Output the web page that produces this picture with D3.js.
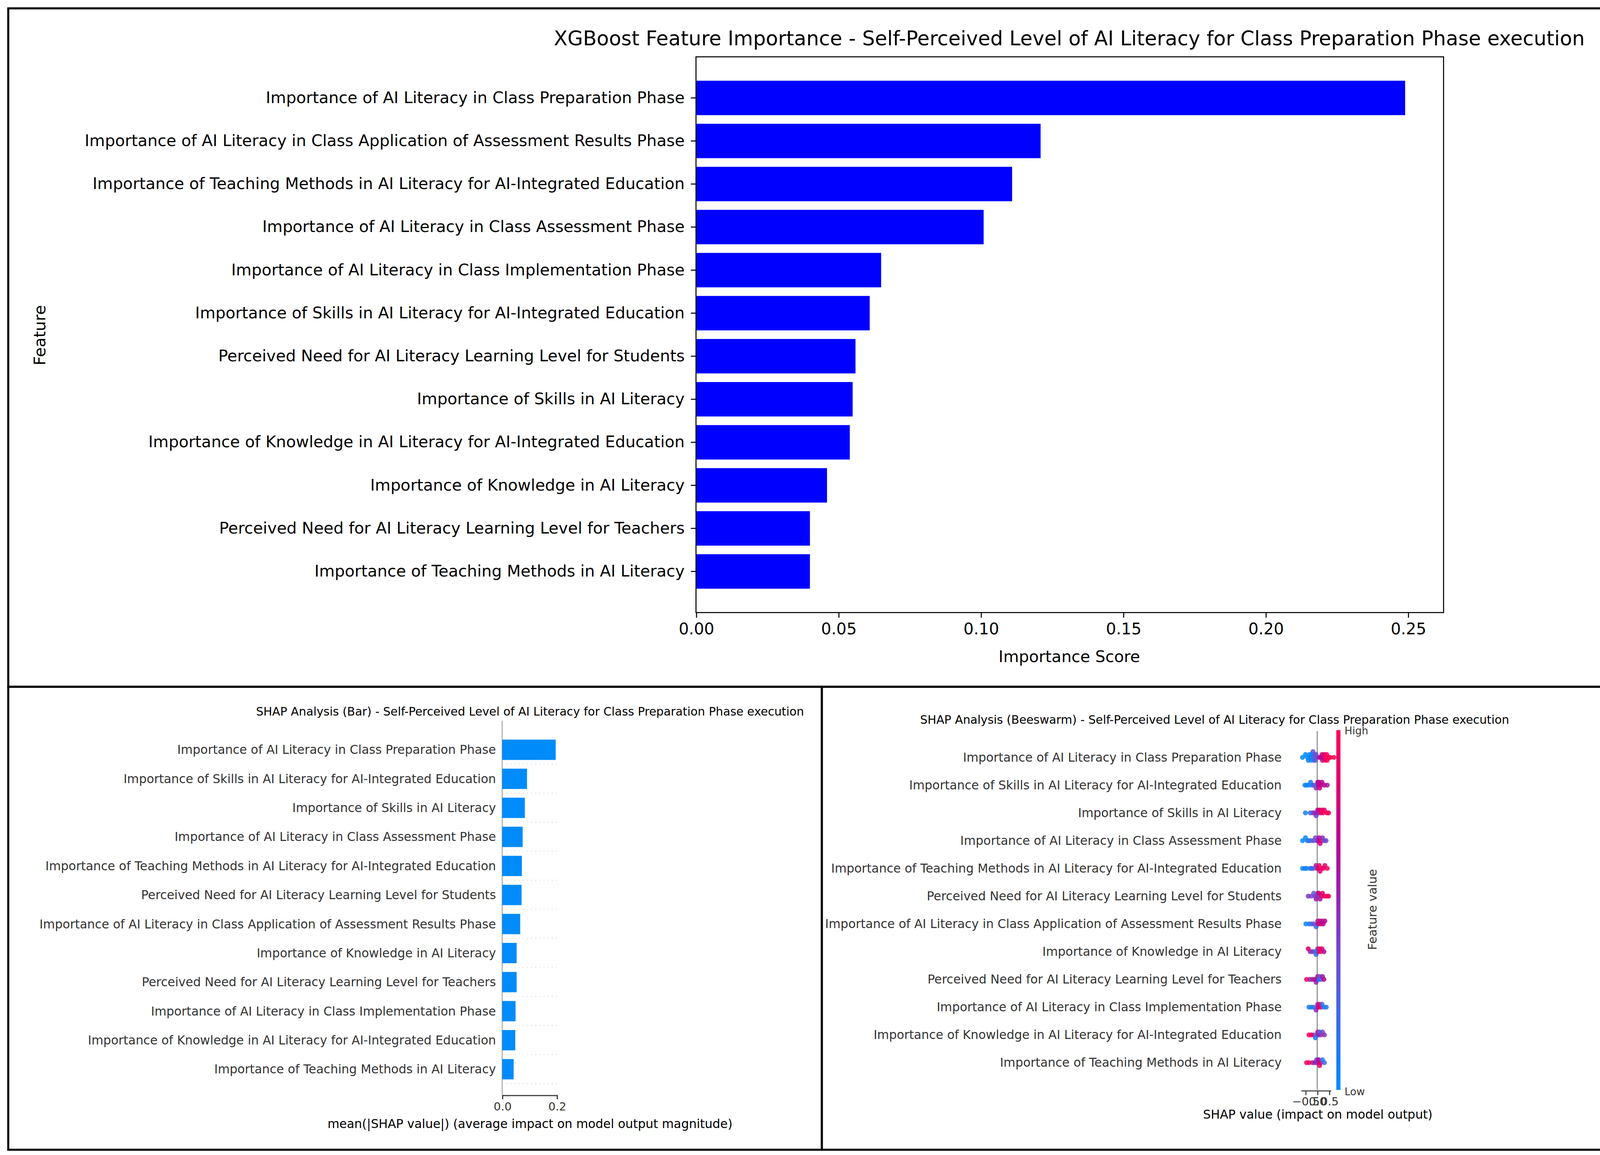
<!DOCTYPE html>
<html><head><meta charset="utf-8">
<script src="https://cdn.jsdelivr.net/npm/d3@7"></script>
<style>body{margin:0;background:#fff}svg{display:block}text{font-family:"DejaVu Sans",sans-serif}</style>
</head><body>
<script>
// Feature importance panels: XGBoost bar, SHAP bar, SHAP beeswarm

var xgbFeatures = [
  "Importance of AI Literacy in Class Preparation Phase",
  "Importance of AI Literacy in Class Application of Assessment Results Phase",
  "Importance of Teaching Methods in AI Literacy for AI-Integrated Education",
  "Importance of AI Literacy in Class Assessment Phase",
  "Importance of AI Literacy in Class Implementation Phase",
  "Importance of Skills in AI Literacy for AI-Integrated Education",
  "Perceived Need for AI Literacy Learning Level for Students",
  "Importance of Skills in AI Literacy",
  "Importance of Knowledge in AI Literacy for AI-Integrated Education",
  "Importance of Knowledge in AI Literacy",
  "Perceived Need for AI Literacy Learning Level for Teachers",
  "Importance of Teaching Methods in AI Literacy"
];
var xgbScores = [0.249, 0.121, 0.111, 0.101, 0.065, 0.061, 0.056, 0.055, 0.054, 0.046, 0.040, 0.040];
var xgbTicks = [0, 0.05, 0.10, 0.15, 0.20, 0.25];

var shapFeatures = [
  "Importance of AI Literacy in Class Preparation Phase",
  "Importance of Skills in AI Literacy for AI-Integrated Education",
  "Importance of Skills in AI Literacy",
  "Importance of AI Literacy in Class Assessment Phase",
  "Importance of Teaching Methods in AI Literacy for AI-Integrated Education",
  "Perceived Need for AI Literacy Learning Level for Students",
  "Importance of AI Literacy in Class Application of Assessment Results Phase",
  "Importance of Knowledge in AI Literacy",
  "Perceived Need for AI Literacy Learning Level for Teachers",
  "Importance of AI Literacy in Class Implementation Phase",
  "Importance of Knowledge in AI Literacy for AI-Integrated Education",
  "Importance of Teaching Methods in AI Literacy"
];
var shapMeanAbs = [0.196, 0.091, 0.083, 0.075, 0.072, 0.071, 0.066, 0.053, 0.053, 0.049, 0.048, 0.042];

// beeswarm points per feature: [shap value, normalized feature value]
var swarmPoints = [
  [[-0.62,0],[-0.5,0],[-0.42,0],[-0.38,0.05],[-0.33,0],[-0.3,0.1],[-0.27,0],[-0.24,0.2],[-0.2,0.3],[-0.18,0.35],[-0.15,0.3],[-0.12,0.35],[-0.1,0.4],[-0.08,0.3],[-0.05,0.35],[0.02,0.5],[0.1,0.6],[0.15,0.65],[0.2,0.75],[0.22,0.7],[0.25,0.8],[0.3,0.8],[0.33,0.95],[0.38,1],[0.4,1],[0.42,0.95],[0.5,1],[0.55,1],[0.7,1]],
  [[-0.52,0.05],[-0.45,0.05],[-0.35,0],[-0.28,0.1],[-0.22,0.3],[-0.15,0.25],[-0.05,0.5],[0,0.6],[0.02,0.7],[0.05,0.75],[0.08,0.65],[0.1,0.8],[0.15,0.7],[0.2,0.7],[0.3,0.75],[0.42,0.6]],
  [[-0.5,0.05],[-0.3,0.2],[-0.2,0.5],[-0.12,0.6],[-0.05,0.4],[0,0.45],[0.02,0.7],[0.05,0.5],[0.1,0.8],[0.15,0.9],[0.2,1],[0.25,0.95],[0.3,0.9],[0.4,1],[0.48,0.95]],
  [[-0.62,0],[-0.5,0.05],[-0.42,0.1],[-0.35,0.2],[-0.25,0.3],[-0.15,0.35],[-0.08,0.4],[0,0.5],[0.03,0.6],[0.08,0.7],[0.12,0.8],[0.18,0.9],[0.22,0.5],[0.3,0.35],[0.37,0.4]],
  [[-0.62,0.05],[-0.52,0],[-0.45,0.1],[-0.3,0.15],[-0.25,0.2],[-0.15,0.4],[-0.05,0.6],[0,0.8],[0.03,0.9],[0.08,0.95],[0.12,0.85],[0.18,1],[0.25,0.9],[0.32,0.9],[0.42,0.95]],
  [[-0.38,0.45],[-0.25,0.4],[-0.15,0.3],[-0.1,0.5],[-0.05,0.6],[0,0.2],[0.02,0.7],[0.05,0.4],[0.08,0.8],[0.12,0.6],[0.18,0.9],[0.22,0.85],[0.3,0.9],[0.4,0.95],[0.48,1]],
  [[-0.48,0.05],[-0.35,0.1],[-0.25,0.3],[-0.15,0.4],[-0.05,0.15],[0,0.2],[0.02,0.5],[0.05,0.8],[0.1,0.9],[0.15,0.85],[0.2,0.6],[0.25,0.7],[0.32,0.7]],
  [[-0.38,0.85],[-0.3,0.5],[-0.2,0.4],[-0.1,0.1],[-0.05,0.2],[0,0.15],[0.02,0.5],[0.05,0.9],[0.1,1],[0.15,0.95],[0.2,0.85],[0.28,0.7]],
  [[-0.45,0.95],[-0.32,0.5],[-0.22,0.6],[-0.12,0.7],[-0.05,0.55],[0,0.45],[0.02,0.65],[0.05,0.15],[0.1,0.3],[0.15,0.2],[0.22,0.6],[0.28,0.7]],
  [[-0.35,0.1],[-0.25,0.05],[-0.15,0.3],[-0.05,0.5],[0,0.15],[0.02,0.6],[0.05,0.8],[0.1,0.9],[0.15,0.9],[0.2,0.2],[0.28,0.1],[0.38,0.1]],
  [[-0.35,1],[-0.25,0.9],[-0.15,0.3],[-0.08,0.1],[0,0.2],[0.02,0.8],[0.05,0.6],[0.1,0.2],[0.15,0.5],[0.22,0.4],[0.3,0.5]],
  [[-0.45,0.95],[-0.35,0.9],[-0.2,0.6],[-0.1,0.5],[-0.03,0.4],[0,0.2],[0.03,0.8],[0.06,0.7],[0.1,0.9],[0.15,0.85],[0.22,0.1],[0.3,0.2]]
];
var swarmTicks = [-0.5, 0.0, 0.5];

var W = 1568, H = 1120;
var svg = d3.select("body").append("svg")
  .attr("width", 4139).attr("height", 2957)
  .attr("viewBox", "0 0 " + W + " " + H);
svg.append("rect").attr("width", W).attr("height", H).attr("fill", "#fff");

// panel borders
[[8, 8, 1552, 658], [8, 666, 789, 449], [797, 666, 763, 449]].forEach(function(b) {
  svg.append("rect").attr("x", b[0]).attr("y", b[1]).attr("width", b[2]).attr("height", b[3])
    .attr("fill", "none").attr("stroke", "#000").attr("stroke-width", 2);
});

// ---------- top: XGBoost importance ----------
var topBox = {left: 675, right: 1400, top: 55, bottom: 594};
var xTop = d3.scaleLinear().domain([0, 0.2625]).range([topBox.left, topBox.right]);
var yTop = d3.scaleBand().domain(xgbFeatures).range([topBox.top + 19, topBox.bottom - 19]).paddingInner(0.2).paddingOuter(0.1);
var gTop = svg.append("g");
gTop.selectAll("rect.bar").data(xgbFeatures).enter().append("rect")
  .attr("x", xTop(0)).attr("y", function(d) { return yTop(d); })
  .attr("width", function(d, i) { return xTop(xgbScores[i]) - xTop(0); })
  .attr("height", yTop.bandwidth()).attr("fill", "#0000ff");
gTop.append("rect").attr("x", topBox.left).attr("y", topBox.top).attr("width", topBox.right - topBox.left)
  .attr("height", topBox.bottom - topBox.top).attr("fill", "none").attr("stroke", "#000").attr("stroke-width", 1);
var axB = gTop.append("g").attr("transform", "translate(0," + topBox.bottom + ")")
  .call(d3.axisBottom(xTop).tickValues(xgbTicks).tickFormat(d3.format(".2f")).tickSize(5).tickPadding(5));
axB.select(".domain").remove();
axB.selectAll("text").attr("font-size", 15.5).attr("fill", "#000").attr("font-family", "DejaVu Sans");
var axL = gTop.append("g").attr("transform", "translate(" + topBox.left + ",0)")
  .call(d3.axisLeft(yTop).tickSize(5).tickPadding(6));
axL.select(".domain").remove();
axL.selectAll("text").attr("font-size", 15.5).attr("fill", "#000").attr("font-family", "DejaVu Sans");
gTop.append("text").attr("x", 1037).attr("y", 44).attr("text-anchor", "middle").attr("font-size", 19.4)
  .text("XGBoost Feature Importance - Self-Perceived Level of AI Literacy for Class Preparation Phase execution");
gTop.append("text").attr("x", 1037).attr("y", 642).attr("text-anchor", "middle").attr("font-size", 15.5).text("Importance Score");
gTop.append("text").attr("transform", "translate(44,325) rotate(-90)").attr("text-anchor", "middle").attr("font-size", 15.5).text("Feature");

// ---------- bottom left: SHAP bar ----------
var xBar = d3.scaleLinear().domain([0, 0.2]).range([487, 540]);
var yBar = d3.scaleBand().domain(shapFeatures).range([713, 1051]).paddingInner(0.3).paddingOuter(0.15);
var gBar = svg.append("g");
gBar.append("line").attr("x1", 487).attr("x2", 487).attr("y1", 699).attr("y2", 1062).attr("stroke", "#999").attr("stroke-width", 0.8);
gBar.selectAll("line.grid").data(shapFeatures).enter().append("line")
  .attr("x1", 487).attr("x2", 540).attr("y1", function(d) { return yBar(d) + yBar.bandwidth() + 4; })
  .attr("y2", function(d) { return yBar(d) + yBar.bandwidth() + 4; }).attr("stroke", "#ccc").attr("stroke-width", 0.5).attr("stroke-dasharray", "1,3");
gBar.selectAll("rect.bar").data(shapFeatures).enter().append("rect")
  .attr("x", xBar(0)).attr("y", function(d) { return yBar(d); })
  .attr("width", function(d, i) { return xBar(shapMeanAbs[i]) - xBar(0); })
  .attr("height", yBar.bandwidth()).attr("fill", "#008bfb");
gBar.selectAll("text.lab").data(shapFeatures).enter().append("text")
  .attr("x", 481).attr("y", function(d) { return yBar(d) + yBar.bandwidth() / 2; })
  .attr("dy", "0.35em").attr("text-anchor", "end").attr("font-size", 11.8).attr("fill", "#333").text(function(d) { return d; });
var axBar = gBar.append("g").attr("transform", "translate(0,1062)")
  .call(d3.axisBottom(xBar).tickValues([0, 0.2]).tickFormat(d3.format(".1f")).tickSize(4).tickPadding(3));
axBar.selectAll("text").attr("font-size", 11).attr("fill", "#333").attr("font-family", "DejaVu Sans");
axBar.selectAll("line,path").attr("stroke", "#333");
gBar.append("text").attr("x", 514).attr("y", 1094).attr("text-anchor", "middle").attr("font-size", 11.8)
  .text("mean(|SHAP value|) (average impact on model output magnitude)");
gBar.append("text").attr("x", 514).attr("y", 694).attr("text-anchor", "middle").attr("font-size", 11.3)
  .text("SHAP Analysis (Bar) - Self-Perceived Level of AI Literacy for Class Preparation Phase execution");

// ---------- bottom right: SHAP beeswarm ----------
var xSw = d3.scaleLinear().domain([-0.5, 0.5]).range([1266, 1289]);
var ySw = d3.scaleBand().domain(shapFeatures).range([721, 1044]).padding(0);
var color = d3.scaleLinear().domain([0, 0.35, 0.7, 1]).range(["#008bfb", "#6a4fd8", "#b9008f", "#ff0052"]);
var gSw = svg.append("g");
gSw.selectAll("line.grid").data(shapFeatures).enter().append("line")
  .attr("x1", 1262).attr("x2", 1292).attr("y1", function(d) { return ySw(d) + ySw.bandwidth() / 2; })
  .attr("y2", function(d) { return ySw(d) + ySw.bandwidth() / 2; }).attr("stroke", "#ddd").attr("stroke-width", 0.5).attr("stroke-dasharray", "1,2");
gSw.append("line").attr("x1", xSw(0)).attr("x2", xSw(0)).attr("y1", 709).attr("y2", 1057).attr("stroke", "#999").attr("stroke-width", 1.2);
swarmPoints.forEach(function(pts, row) {
  var cy = ySw(shapFeatures[row]) + ySw.bandwidth() / 2;
  var counts = {};
  pts.slice().sort(function(a, b) { return Math.abs(a[0]) - Math.abs(b[0]); }).forEach(function(p) {
    var bin = Math.round(xSw(p[0]) / 2.4);
    var k = counts[bin] || 0;
    counts[bin] = k + 1;
    var off = (k % 2 === 0 ? 1 : -1) * Math.ceil(k / 2) * 2.8;
    gSw.append("circle").attr("cx", xSw(p[0])).attr("cy", cy + off).attr("r", 2.4)
      .attr("fill", color(p[1])).attr("fill-opacity", 0.85);
  });
});
var axSw = gSw.append("g").attr("transform", "translate(0,1058)")
  .call(d3.axisBottom(xSw).tickValues(swarmTicks).tickFormat(function(d) { return d === 0 ? "0.0" : d3.format(".1f")(d).replace("-", "\u2212"); }).tickSize(4).tickPadding(2));
axSw.select(".domain").attr("d", "M1262,0H1291");
axSw.selectAll("text").attr("font-size", 11).attr("fill", "#333").attr("font-family", "DejaVu Sans");
axSw.selectAll("line,path").attr("stroke", "#333");
gSw.selectAll("text.lab").data(shapFeatures).enter().append("text")
  .attr("x", 1243).attr("y", function(d) { return ySw(d) + ySw.bandwidth() / 2; })
  .attr("dy", "0.35em").attr("text-anchor", "end").attr("font-size", 11.8).attr("fill", "#333").text(function(d) { return d; });
// colour bar
var defs = svg.append("defs");
var grad = defs.append("linearGradient").attr("id", "cb").attr("x1", 0).attr("y1", 1).attr("x2", 0).attr("y2", 0);
[0, 0.35, 0.7, 1].forEach(function(t) { grad.append("stop").attr("offset", t).attr("stop-color", color(t)); });
gSw.append("rect").attr("x", 1296).attr("y", 708).attr("width", 4).attr("height", 349).attr("fill", "url(#cb)");
gSw.append("text").attr("x", 1304).attr("y", 712).attr("font-size", 10).attr("fill", "#333").text("High");
gSw.append("text").attr("x", 1304).attr("y", 1062).attr("font-size", 10).attr("fill", "#333").text("Low");
gSw.append("text").attr("transform", "translate(1335,882) rotate(-90)").attr("text-anchor", "middle").attr("font-size", 11.5).attr("fill", "#333").text("Feature value");
gSw.append("text").attr("x", 1278).attr("y", 1085).attr("text-anchor", "middle").attr("font-size", 11.8).text("SHAP value (impact on model output)");
gSw.append("text").attr("x", 1178).attr("y", 702).attr("text-anchor", "middle").attr("font-size", 11.3)
  .text("SHAP Analysis (Beeswarm) - Self-Perceived Level of AI Literacy for Class Preparation Phase execution");
</script>
</body></html>
